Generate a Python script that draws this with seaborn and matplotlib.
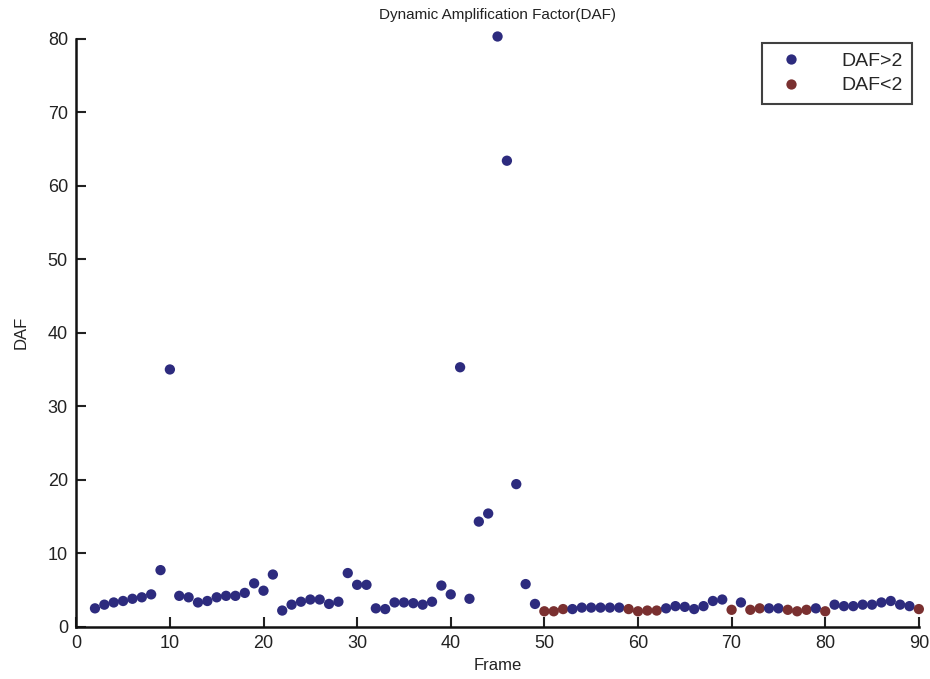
import matplotlib
matplotlib.use("Agg")
import matplotlib.pyplot as plt
import seaborn as sns
import pandas as pd

frames = [2, 3, 4, 5, 6, 7, 8, 9, 10, 11, 12, 13, 14, 15, 16, 17, 18, 19, 20, 21,
          22, 23, 24, 25, 26, 27, 28, 29, 30, 31, 32, 33, 34, 35, 36, 37, 38, 39, 40, 41,
          42, 43, 44, 45, 46, 47, 48, 49, 50, 51, 52, 53, 54, 55, 56, 57, 58, 59, 60, 61,
          62, 63, 64, 65, 66, 67, 68, 69, 70, 71, 72, 73, 74, 75, 76, 77, 78, 79, 80, 81,
          82, 83, 84, 85, 86, 87, 88, 89, 90]
daf = [2.5, 3.0, 3.3, 3.5, 3.8, 4.0, 4.4, 7.7, 35.0, 4.2, 4.0, 3.3, 3.5, 4.0, 4.2, 4.2, 4.6, 5.9, 4.9, 7.1,
       2.2, 3.0, 3.4, 3.7, 3.7, 3.1, 3.4, 7.3, 5.7, 5.7, 2.5, 2.4, 3.3, 3.3, 3.2, 3.0, 3.4, 5.6, 4.4, 35.3,
       3.8, 14.3, 15.4, 80.3, 63.4, 19.4, 5.8, 3.1, 2.1, 2.1, 2.4, 2.4, 2.6, 2.6, 2.6, 2.6, 2.6, 2.4, 2.1, 2.2,
       2.2, 2.5, 2.8, 2.7, 2.4, 2.8, 3.5, 3.7, 2.3, 3.3, 2.3, 2.5, 2.5, 2.5, 2.3, 2.1, 2.3, 2.5, 2.1, 3.0,
       2.8, 2.8, 3.0, 3.0, 3.3, 3.5, 3.0, 2.8, 2.4]
red_frames = [50, 51, 52, 59, 60, 61, 62, 70, 72, 73, 76, 77, 78, 80, 90]
labels = ["DAF>2", "DAF<2"]
groups = [labels[1] if f in red_frames else labels[0] for f in frames]

df = pd.DataFrame({"Frame": frames, "DAF": daf, "group": groups})

sns.set_style("white")
plt.rcParams["font.family"] = ["Liberation Sans", "DejaVu Sans"]

fig = plt.figure(figsize=(9.3, 6.79), dpi=100)
ax = fig.add_axes([0.082, 0.077, 0.906, 0.866])

palette = {labels[0]: "#2d2b7e", labels[1]: "#7a3030"}
sns.scatterplot(data=df, x="Frame", y="DAF", hue="group", hue_order=labels,
                palette=palette, s=55, edgecolor="none", ax=ax, clip_on=False,
                legend=True, zorder=3)

ax.set_xlim(0, 90)
ax.set_ylim(0, 80)
ax.set_xticks(range(0, 91, 10))
ax.set_yticks(range(0, 81, 10))
ax.tick_params(bottom=True, left=True, direction="in", length=7, width=1.5,
               labelsize=13, colors="#222222", pad=6)
for side in ["top", "right"]:
    ax.spines[side].set_visible(False)
for side in ["left", "bottom"]:
    ax.spines[side].set_linewidth(1.8)
    ax.spines[side].set_color("#111111")

ax.set_title("Dynamic Amplification Factor(DAF)", fontsize=11, pad=14, color="#222222")
ax.set_xlabel("Frame", fontsize=12, labelpad=4, color="#222222")
ax.set_ylabel("DAF", fontsize=12, labelpad=14, color="#222222")

leg = ax.legend(loc="upper right", bbox_to_anchor=(0.997, 1.0), fontsize=14,
                frameon=True, fancybox=False, edgecolor="#111111", markerscale=1.0,
                handletextpad=1.6, borderpad=0.5, labelspacing=0.35, borderaxespad=0.2)
leg.get_frame().set_linewidth(1.5)

fig.savefig("out.png", dpi=100)
